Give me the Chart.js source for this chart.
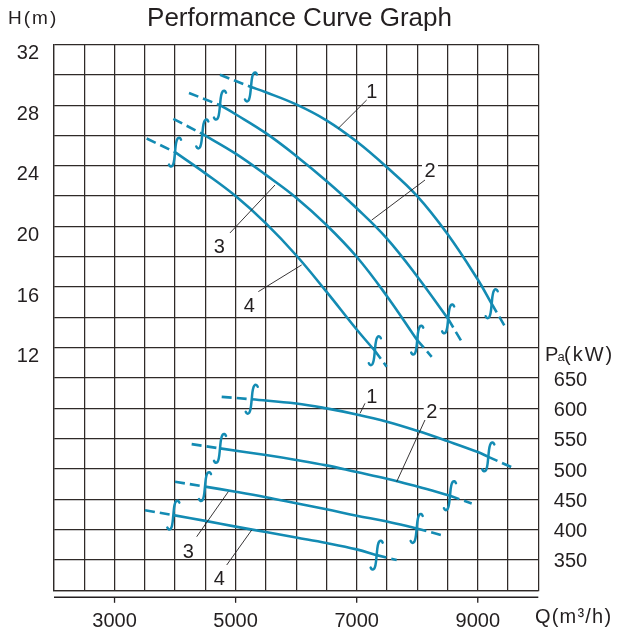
<!DOCTYPE html>
<html>
<head>
<meta charset="utf-8">
<script src="https://cdn.jsdelivr.net/npm/chart.js@4.4.0/dist/chart.umd.min.js"></script>
<style>
html,body{margin:0;padding:0;background:#fff;}
#wrap{width:617px;height:635px;position:relative;}
</style>
</head>
<body>
<div id="wrap"><canvas id="c" width="617" height="635"></canvas></div>
<script>
// ---------- DATA ----------
const X_LABELS = [3000, 5000, 7000, 9000];
const H_LABELS = [12, 16, 20, 24, 28, 32];
const P_LABELS = [350, 400, 450, 500, 550, 600, 650];

// Head curves (Q in m3/h, H in m) - solid parts
const Q_H1 = [5254, 5500, 6000, 6500, 7000, 7500, 8000, 8500, 9000, 9230];
const H_1  = [29.2, 28.85, 28.05, 27.0, 25.6, 23.9, 22.0, 19.5, 16.5, 14.9];
const Q_H2 = [4742, 5000, 5500, 6000, 6500, 7000, 7500, 8000, 8511];
const H_2  = [28.0, 27.4, 26.15, 24.65, 23.0, 21.2, 19.2, 16.7, 13.9];
const Q_H3 = [4450, 5000, 5500, 6000, 6500, 7000, 7500, 8000];
const H_3  = [26.1, 24.8, 23.4, 21.9, 20.1, 18.0, 15.4, 12.5];
const Q_H4 = [3999, 4500, 5000, 5500, 6000, 6500, 7000, 7300];
const H_4  = [24.9, 23.5, 22.0, 20.2, 18.1, 15.7, 13.2, 11.8];
// Head curves - dashed extensions (before / after)
const Q_H1_PRE = [4742, 5254], H_1_PRE = [30.0, 29.2];
const Q_H1_POST = [9230, 9449], H_1_POST = [14.9, 13.4];
const Q_H2_PRE = [4230, 4742], H_2_PRE = [28.8, 28.0];
const Q_H2_POST = [8511, 8734], H_2_POST = [13.9, 12.4];
const Q_H3_PRE = [3971, 4450], H_3_PRE = [27.1, 26.1];
const Q_H3_POST = [8000, 8239], H_3_POST = [12.5, 11.4];
const Q_H4_PRE = [3531, 3999], H_4_PRE = [25.8, 24.9];
const Q_H4_POST = [7300, 7495], H_4_POST = [11.8, 10.75];

// Shaft power curves (Pa in kW) - solid parts
const Q_P1 = [5266, 6000, 6500, 7000, 7500, 8000, 8500, 9000, 9174];
const P_1  = [615, 608, 600, 590, 578, 563, 546, 528, 520];
const Q_P2 = [4742, 5500, 6000, 6500, 7000, 7500, 8000, 8541];
const P_2  = [534, 523, 515, 506, 495, 484, 471, 456];
const Q_P3 = [4494, 5000, 5500, 6000, 6500, 7000, 7500, 7991];
const P_3  = [471, 462.5, 453.5, 443.5, 433.5, 423, 413.5, 402];
const Q_P4 = [3971, 4500, 5000, 5500, 6000, 6500, 7000, 7330];
const P_4  = [424, 414.5, 405, 396, 387, 378, 367.5, 358];
// Power curves - dashed extensions
const Q_P1_PRE = [4770, 5266], P_1_PRE = [619, 615];
const Q_P1_POST = [9174, 9560], P_1_POST = [520, 503];
const Q_P2_PRE = [4274, 4742], P_2_PRE = [541, 534];
const Q_P2_POST = [8541, 8900], P_2_POST = [456, 443];
const Q_P3_PRE = [3999, 4494], P_3_PRE = [479, 471];
const Q_P3_POST = [7991, 8404], P_3_POST = [402, 391];
const Q_P4_PRE = [3503, 3971], P_4_PRE = [432, 424];
const Q_P4_POST = [7330, 7661], P_4_POST = [358, 350];

// Curve number annotations (data coordinates): label point, leader start, leader end
const NOTE_NAMES = ['1', '2', '3', '4'];
const NOTES_H = [
  {q: 7248, v: 28.89, a: [7165, 28.34], b: [6696, 26.47]},
  {q: 8211, v: 23.72, a: [8128, 23.06], b: [7248, 20.42]},
  {q: 4730, v: 18.71, a: [4907, 19.57], b: [5650, 22.73]},
  {q: 5226, v: 14.77, a: [5375, 15.70], b: [6091, 17.46]}
];
const NOTES_P = [
  {q: 7248, v: 619.2, a: [7137, 608.3], b: [7055, 591.8]},
  {q: 8239, v: 594.5, a: [8128, 580.8], b: [7661, 479.1]},
  {q: 4218, v: 363.6, a: [4357, 388.4], b: [4879, 462.6]},
  {q: 4730, v: 319.8, a: [4853, 341.7], b: [5266, 399.4]}
];

// ---------- BUILD ----------
const BLUE = '#138bb3';
const INK = '#231f20';
const GRID = '#2f2a28';
const FONT = "'Liberation Sans', Arial, Helvetica, sans-serif";

const pts = (qs, vs) => qs.map((q, i) => ({x: q, y: vs[i]}));
const solid = [
  {q: Q_H1, v: H_1, axis: 'y'}, {q: Q_H2, v: H_2, axis: 'y'},
  {q: Q_H3, v: H_3, axis: 'y'}, {q: Q_H4, v: H_4, axis: 'y'},
  {q: Q_P1, v: P_1, axis: 'y2'}, {q: Q_P2, v: P_2, axis: 'y2'},
  {q: Q_P3, v: P_3, axis: 'y2'}, {q: Q_P4, v: P_4, axis: 'y2'}
];
const dashed = [
  {q: Q_H1_PRE, v: H_1_PRE, axis: 'y'}, {q: Q_H1_POST, v: H_1_POST, axis: 'y'},
  {q: Q_H2_PRE, v: H_2_PRE, axis: 'y'}, {q: Q_H2_POST, v: H_2_POST, axis: 'y'},
  {q: Q_H3_PRE, v: H_3_PRE, axis: 'y'}, {q: Q_H3_POST, v: H_3_POST, axis: 'y'},
  {q: Q_H4_PRE, v: H_4_PRE, axis: 'y'}, {q: Q_H4_POST, v: H_4_POST, axis: 'y'},
  {q: Q_P1_PRE, v: P_1_PRE, axis: 'y2'}, {q: Q_P1_POST, v: P_1_POST, axis: 'y2'},
  {q: Q_P2_PRE, v: P_2_PRE, axis: 'y2'}, {q: Q_P2_POST, v: P_2_POST, axis: 'y2'},
  {q: Q_P3_PRE, v: P_3_PRE, axis: 'y2'}, {q: Q_P3_POST, v: P_3_POST, axis: 'y2'},
  {q: Q_P4_PRE, v: P_4_PRE, axis: 'y2'}, {q: Q_P4_POST, v: P_4_POST, axis: 'y2'}
];

const datasets = [];
solid.forEach(s => datasets.push({
  data: pts(s.q, s.v), yAxisID: s.axis, borderColor: BLUE, borderWidth: 2.6,
  pointRadius: 0, tension: 0.4, fill: false, borderCapStyle: 'butt'
}));
dashed.forEach(s => datasets.push({
  data: pts(s.q, s.v), yAxisID: s.axis, borderColor: BLUE, borderWidth: 2.6,
  pointRadius: 0, borderDash: [10, 5], fill: false, borderCapStyle: 'butt'
}));

function drawMark(ctx, cx, cy) {
  ctx.beginPath();
  ctx.moveTo(cx + 6, cy - 12.5);
  ctx.quadraticCurveTo(cx + 4.5, cy - 15.8, cx + 2.5, cy - 13.5);
  ctx.bezierCurveTo(cx + 0.6, cy - 11, cx + 0.5, cy - 4, cx, cy);
  ctx.bezierCurveTo(cx - 0.5, cy + 4, cx - 0.6, cy + 11, cx - 2.5, cy + 13.5);
  ctx.quadraticCurveTo(cx - 4.5, cy + 15.8, cx - 6, cy + 12.5);
  ctx.stroke();
}

const extras = {
  id: 'extras',
  afterDatasetsDraw(chart) {
    const {ctx, chartArea: ca} = chart;
    const x = chart.scales.x, y = chart.scales.y, y2 = chart.scales.y2;
    ctx.save();
    // integral-like range marks at the ends of every solid curve
    ctx.strokeStyle = BLUE; ctx.lineWidth = 2.5; ctx.lineCap = 'round';
    solid.forEach(s => {
      const ys = s.axis === 'y' ? y : y2;
      const n = s.q.length - 1;
      drawMark(ctx, x.getPixelForValue(s.q[0]), ys.getPixelForValue(s.v[0]));
      drawMark(ctx, x.getPixelForValue(s.q[n]), ys.getPixelForValue(s.v[n]));
    });
    // curve number notes with leader lines
    ctx.lineCap = 'butt';
    const notes = (list, ys) => list.forEach((n, i) => {
      const px = x.getPixelForValue(n.q), py = ys.getPixelForValue(n.v);
      if (NOTE_NAMES[i] === '2') { ctx.fillStyle = '#fff'; ctx.fillRect(px - 8, py - 9, 16, 18); }
      ctx.strokeStyle = INK; ctx.lineWidth = 0.9;
      ctx.beginPath();
      ctx.moveTo(x.getPixelForValue(n.a[0]), ys.getPixelForValue(n.a[1]));
      ctx.lineTo(x.getPixelForValue(n.b[0]), ys.getPixelForValue(n.b[1]));
      ctx.stroke();
      ctx.fillStyle = INK; ctx.font = '20px ' + FONT;
      ctx.textAlign = 'center'; ctx.textBaseline = 'middle';
      ctx.fillText(NOTE_NAMES[i], px, py + 1);
    });
    notes(NOTES_H, y);
    notes(NOTES_P, y2);
    // separate bottom axis line with ticks
    const ay = ca.bottom + 7;
    ctx.strokeStyle = INK; ctx.lineWidth = 1.5;
    ctx.beginPath(); ctx.moveTo(ca.left, ay); ctx.lineTo(ca.right, ay); ctx.stroke();
    ctx.lineWidth = 1.3;
    X_LABELS.forEach(v => {
      const px = x.getPixelForValue(v);
      ctx.beginPath(); ctx.moveTo(px, ay); ctx.lineTo(px, ay + 5.5); ctx.stroke();
    });
    // texts
    ctx.fillStyle = INK; ctx.textBaseline = 'alphabetic';
    ctx.textAlign = 'center'; ctx.font = '26px ' + FONT;
    ctx.fillText('Performance Curve Graph', 299.5, 26);
    ctx.textAlign = 'left';
    ctx.font = '19px ' + FONT; ctx.letterSpacing = '2px';
    ctx.fillText('H(m)', 8, 24);
    ctx.letterSpacing = '0px';
    ctx.font = '20px ' + FONT;
    ctx.fillText('P', 545, 360.7);
    ctx.font = '13px ' + FONT;
    ctx.fillText('a', 557.5, 360.7);
    ctx.font = '20px ' + FONT; ctx.letterSpacing = '2px';
    ctx.fillText('(kW)', 564, 360.7);
    ctx.letterSpacing = '1.2px';
    ctx.fillText('Q(m\u00B3/h)', 535, 623);
    ctx.letterSpacing = '0px';
    ctx.restore();
  }
};

Chart.defaults.font.family = FONT;
Chart.defaults.color = INK;

new Chart(document.getElementById('c'), {
  type: 'line',
  data: {datasets},
  options: {
    responsive: false, animation: false, devicePixelRatio: 1,
    layout: {padding: {top: 44.5, left: 0, right: 0, bottom: 0}},
    plugins: {legend: {display: false}, tooltip: {enabled: false}, title: {display: false}},
    scales: {
      x: {
        type: 'linear', position: 'bottom', min: 2000, max: 10000,
        afterFit: s => { s.height = 44.7; },
        grid: {color: GRID, lineWidth: 1.25, drawTicks: false},
        border: {display: true, color: GRID, width: 1.25},
        ticks: {
          stepSize: 500, maxTicksLimit: 100, autoSkip: false, maxRotation: 0, padding: 19,
          font: {size: 20}, color: INK,
          callback: v => X_LABELS.includes(v) ? String(v) : ''
        }
      },
      y: {
        type: 'linear', position: 'left', min: -4, max: 32,
        afterFit: s => { s.width = 54; },
        grid: {color: GRID, lineWidth: 1.25, drawTicks: false},
        border: {display: true, color: GRID, width: 1.25},
        ticks: {
          stepSize: 2, maxTicksLimit: 100, autoSkip: false, padding: 15, labelOffset: 9,
          font: {size: 20}, color: INK,
          callback: v => H_LABELS.includes(v) ? String(v) : ''
        }
      },
      y2: {
        type: 'linear', position: 'right', min: 300, max: 1200,
        afterFit: s => { s.width = 78.7; },
        grid: {display: false, drawTicks: false},
        border: {display: false},
        ticks: {
          stepSize: 50, maxTicksLimit: 100, autoSkip: false, padding: 15.5, labelOffset: 2,
          font: {size: 20}, color: INK,
          callback: v => P_LABELS.includes(v) ? String(v) : ''
        }
      }
    }
  },
  plugins: [extras]
});
</script>
</body>
</html>
